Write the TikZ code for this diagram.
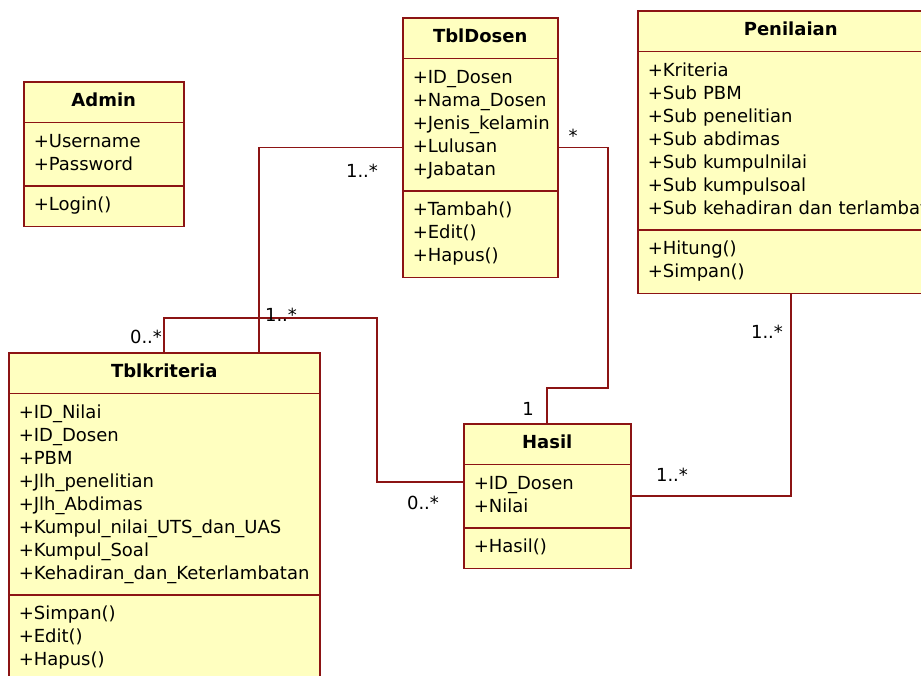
\documentclass[tikz,border=0pt]{standalone}
\usepackage{fontspec}
\setmainfont{DejaVu Sans}
\usetikzlibrary{shapes.multipart}
\setlength{\parindent}{0pt}

\definecolor{umlline}{RGB}{140,20,20}
\definecolor{umlfill}{RGB}{255,255,192}

\tikzset{
  umlclass/.style={rectangle split, rectangle split parts=3,
    draw=umlline, fill=umlfill, line width=1.5pt,
    inner xsep=10pt, inner ysep=8pt, anchor=north west,
    font=\fontsize{18}{23}\selectfont},
  assoc/.style={draw=umlline, line width=1.6pt},
  mult/.style={inner sep=0pt, font=\fontsize{18}{23}\selectfont}
}

\begin{document}
\begin{tikzpicture}[x=1pt, y=-1pt]
        \useasboundingbox (0,0) rectangle (921,675);
        \clip (0,0) rectangle (921,675);

        % Classes
        \node[umlclass, text width=140pt] (admin) at (23,81) {
            \nodepart{one}\centering\strut\textbf{Admin}\par
            \nodepart{two}\strut+Username\\\strut+Password
            \nodepart{three}\strut+Login()};

        \node[umlclass, text width=135pt] (dosen) at (402,17) {
            \nodepart{one}\centering\strut\textbf{TblDosen}\par
            \nodepart{two}\strut+ID\_Dosen\\\strut+Nama\_Dosen\\\strut+Jenis\_kelamin\\\strut+Lulusan\\\strut+Jabatan
            \nodepart{three}\strut+Tambah()\\\strut+Edit()\\\strut+Hapus()};

        \node[umlclass, text width=286pt] (nilai) at (637,10) {
            \nodepart{one}\centering\strut\textbf{Penilaian}\par
            \nodepart{two}\strut+Kriteria\\\strut+Sub PBM\\\strut+Sub penelitian\\\strut+Sub abdimas\\\strut+Sub kumpulnilai\\\strut+Sub kumpulsoal\\\strut+Sub~kehadiran~dan~terlambat
            \nodepart{three}\strut+Hitung()\\\strut+Simpan()};

        \node[umlclass, text width=291pt] (krit) at (8,352) {
            \nodepart{one}\centering\strut\textbf{Tblkriteria}\par
            \nodepart{two}\strut+ID\_Nilai\\\strut+ID\_Dosen\\\strut+PBM\\\strut+Jlh\_penelitian\\\strut+Jlh\_Abdimas\\\strut+Kumpul\_nilai\_UTS\_dan\_UAS\\\strut+Kumpul\_Soal\\\strut+Kehadiran\_dan\_Keterlambatan
            \nodepart{three}\strut+Simpan()\\\strut+Edit()\\\strut+Hapus()};

        \node[umlclass, text width=147pt] (hasil) at (463,423) {
            \nodepart{one}\centering\strut\textbf{Hasil}\par
            \nodepart{two}\strut+ID\_Dosen\\\strut+Nilai
            \nodepart{three}\strut+Hasil()};

        % Associations
        \coordinate (bendA) at (377,318);
        \coordinate (bendB) at (608,388);
        \draw[assoc] (dosen.west) -| ([xshift=95pt]krit.north);
        \draw[assoc] (krit.north) |- (bendA) |- ([yshift=14pt]hasil.west);
        \draw[assoc] (dosen.east) -| (bendB) -| (hasil.north);
        \draw[assoc] (nilai.south) |- (hasil.east);

        % Multiplicities
        \foreach \nm/\x/\y/\txt in {
            mDosenK/362/171/1..*,
            mDosenH/573/136/*,
            mKritA/146/337/0..*,
            mKritB/281/315/1..*,
            mHasilK/423/503/0..*,
            mHasilD/528/409/1,
            mHasilN/672/475/1..*,
            mNilai/767/332/1..*
        } {
            \node[mult] (\nm) at (\x,\y) {\txt};
        }
    \end{tikzpicture}
\end{document}
